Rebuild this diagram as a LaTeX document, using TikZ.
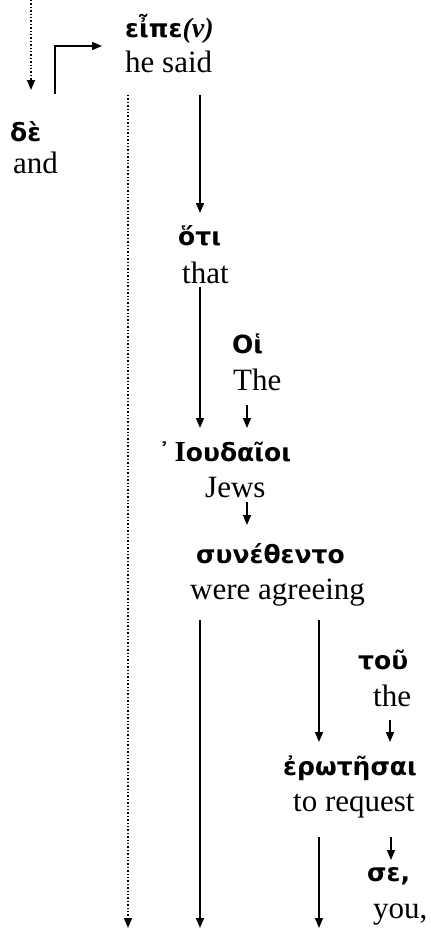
\documentclass[tikz,border=0pt]{standalone}
\usepackage{fontspec}
\setmainfont{Liberation Serif}
\newfontfamily\gk{DejaVu Sans}
\usetikzlibrary{arrows.meta}
\begin{document}
\begin{tikzpicture}[x=1pt,y=1pt,
  gr/.style={anchor=base west,inner sep=0pt,font=\gk\bfseries\fontsize{25}{30}\selectfont},
  en/.style={anchor=base west,inner sep=0pt,font=\fontsize{31}{36}\selectfont},
  arr/.style={line width=1.4pt,-{Triangle[length=10pt,width=8pt]}},
  darr/.style={line width=1.4pt,dotted,-{Triangle[length=10pt,width=8pt]}}]
\useasboundingbox (0,0) rectangle (431,-930);
% words
\node[gr] (w1) at (125,-37) {εἶπε{\rmfamily\itshape\fontsize{28}{30}\selectfont(ν)}};
\node[en] (t1) at (125,-72) {he said};
\node[gr] (w2) at (10,-141) {δὲ};
\node[en] (t2) at (13,-173) {and};
\node[gr] (w3) at (178,-245) {ὅτι};
\node[en] (t3) at (182,-283) {that};
\node[gr] (w4) at (232,-353) {Οἱ};
\node[en] (t4) at (233,-390) {The};
\node[gr] (w5) at (158,-461) {᾿\kern4pt{\rmfamily\fontsize{29}{30}\selectfont Ι}ουδαῖοι};
\node[en] (t5) at (205,-497) {Jews};
\node[gr] (w6) at (196,-563) {συνέθεντο};
\node[en] (t6) at (190,-599) {were agreeing};
\node[gr] (w7) at (358,-669) {τοῦ};
\node[en] (t7) at (373,-706) {the};
\node[gr] (w8) at (283,-775) {ἐρωτῆσαι};
\node[en] (t8) at (293,-811) {to request};
\node[gr] (w9) at (367,-881) {σε,};
\node[en] (t9) at (373,-918) {you,};
% connector end points
\coordinate (top) at (31,0);
\coordinate (topend) at (31,-90);
\coordinate (el0) at (55,-94);
\coordinate (el1) at (55,-46);
\coordinate (el2) at (102,-46);
\coordinate (d0) at (128,-95);
\coordinate (d1) at (128,-928);
\coordinate (a0) at (200,-95);
\coordinate (a1) at (200,-213);
\coordinate (b0) at (200,-287);
\coordinate (b1) at (200,-428);
\coordinate (c0) at (247,-405);
\coordinate (c1) at (247,-428);
\coordinate (e0) at (247,-502);
\coordinate (e1) at (247,-525);
\coordinate (f0) at (200,-620);
\coordinate (f1) at (200,-928);
\coordinate (g0) at (319,-620);
\coordinate (g1) at (319,-742);
\coordinate (h0) at (390,-720);
\coordinate (h1) at (390,-742);
\coordinate (i0) at (319,-837);
\coordinate (i1) at (319,-928);
\coordinate (j0) at (391,-837);
\coordinate (j1) at (391,-860);
% connectors
\draw[darr] (top) -- (topend);
\draw[arr] (el0) -- (el1) -- (el2);
\draw[darr] (d0) -- (d1);
\draw[arr] (a0) -- (a1);
\draw[arr] (b0) -- (b1);
\draw[arr] (c0) -- (c1);
\draw[arr] (e0) -- (e1);
\draw[arr] (f0) -- (f1);
\draw[arr] (g0) -- (g1);
\draw[arr] (h0) -- (h1);
\draw[arr] (i0) -- (i1);
\draw[arr] (j0) -- (j1);
\end{tikzpicture}
\end{document}
